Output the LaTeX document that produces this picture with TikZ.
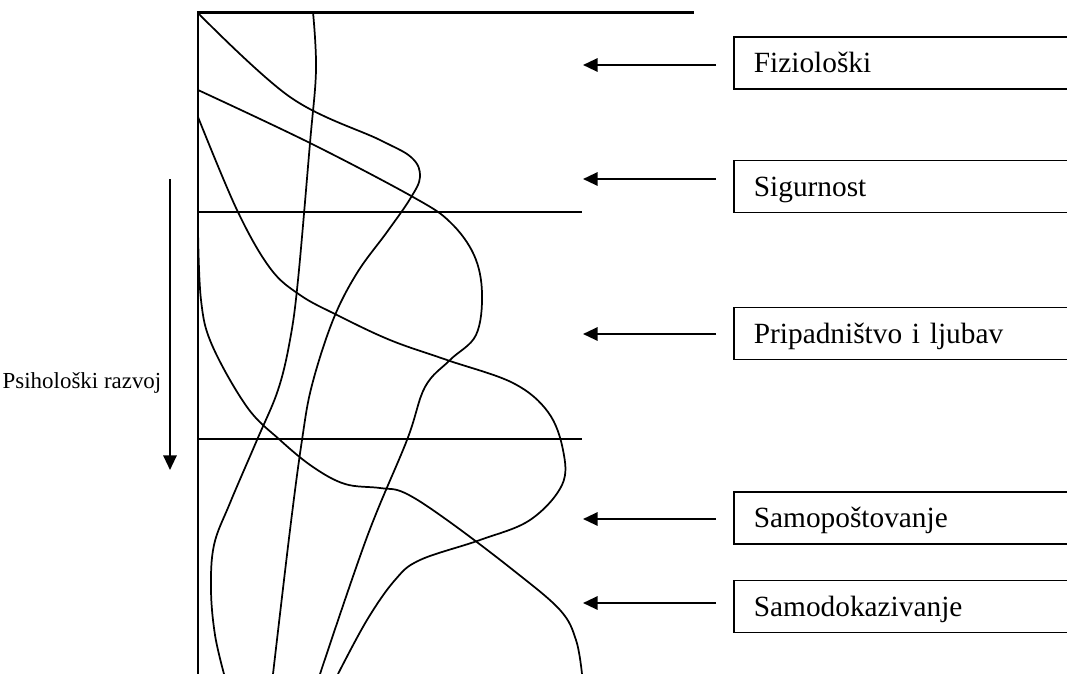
\documentclass[tikz,border=0pt]{standalone}
\usepackage{fontspec}
\setmainfont{Liberation Serif}
\usetikzlibrary{arrows.meta}

\tikzstyle{needbox} = [draw, rectangle, line width=1.3pt, anchor=west, text width=270pt, inner xsep=15pt, minimum height=39pt, align=left, text height=14.5pt, text depth=0pt, font=\fontsize{22}{26}\selectfont]
\tikzstyle{curve} = [line width=1.3pt, smooth, tension=0.6]
\tikzstyle{axisline} = [line width=1.6pt]
\tikzstyle{arr} = [line width=1.6pt, -{Triangle[length=11pt,width=10pt]}]

\begin{document}
\begin{tikzpicture}[x=0.75pt, y=-0.75pt]
\useasboundingbox (0,0) rectangle (1067,674);

\draw[axisline] (198,674) -- (198,12.5) -- (694,12.5);
\draw[axisline] (198,212) -- (582,212);
\draw[axisline] (198,439) -- (582,439);

\draw[curve] plot coordinates {(198,13) (290,97) (380,140) (412,158) (420,177) (410,199) (387,232) (357,273) (333,320) (312,385) (302,440) (290,530) (273,674)};
\draw[curve] plot coordinates {(198,90) (310,143) (413,197) (450,222) (474,255) (482,293) (476,335) (450,360) (425,387) (407,440) (367,537) (320,674)};
\draw[curve] plot coordinates {(198,117) (237,210) (270,268) (300,295) (337,315) (390,340) (447,360) (513,383) (548,412) (563,450) (562,485) (530,520) (480,540) (420,560) (395,580) (367,620) (338,674)};
\draw[curve] plot coordinates {(198,230) (201,300) (212,345) (247,407) (280,440) (313,467) (345,484) (380,488) (405,493) (447,520) (513,570) (560,610) (576,640) (582,674)};
\draw[curve] plot coordinates {(313,12) (316,70) (310,143) (298,280) (290,340) (278,390) (257,440) (230,503) (214,545) (211,590) (215,635) (224,674)};

\node[needbox] (fizio) at (733,63) {Fiziološki};
\node[needbox] (sigur) at (733,186.5) {Sigurnost};
\node[needbox] (pripad) at (733,333.5) {Pripadništvo i ljubav};
\node[needbox] (samopo) at (733,518) {Samopoštovanje};
\node[needbox] (samodo) at (733,606.5) {Samodokazivanje};

\coordinate (fizioT) at (583,65);
\coordinate (sigurT) at (583,179);
\coordinate (pripadT) at (583,334);
\coordinate (samopoT) at (583,519);
\coordinate (samodoT) at (583,603);

\draw[arr] ([xshift=-12.75pt]fizio.west |- fizioT) -- (fizioT);
\draw[arr] ([xshift=-12.75pt]sigur.west |- sigurT) -- (sigurT);
\draw[arr] ([xshift=-12.75pt]pripad.west |- pripadT) -- (pripadT);
\draw[arr] ([xshift=-12.75pt]samopo.west |- samopoT) -- (samopoT);
\draw[arr] ([xshift=-12.75pt]samodo.west |- samodoT) -- (samodoT);

\node[anchor=base, inner sep=0pt, font=\fontsize{17.2}{20}\selectfont] (razvoj) at (82,388) {Psihološki razvoj};
\coordinate (razvojS) at (170,179);
\coordinate (razvojT) at (170,470);
\draw[arr] (razvojS) -- (razvojT);

\end{tikzpicture}
\end{document}
